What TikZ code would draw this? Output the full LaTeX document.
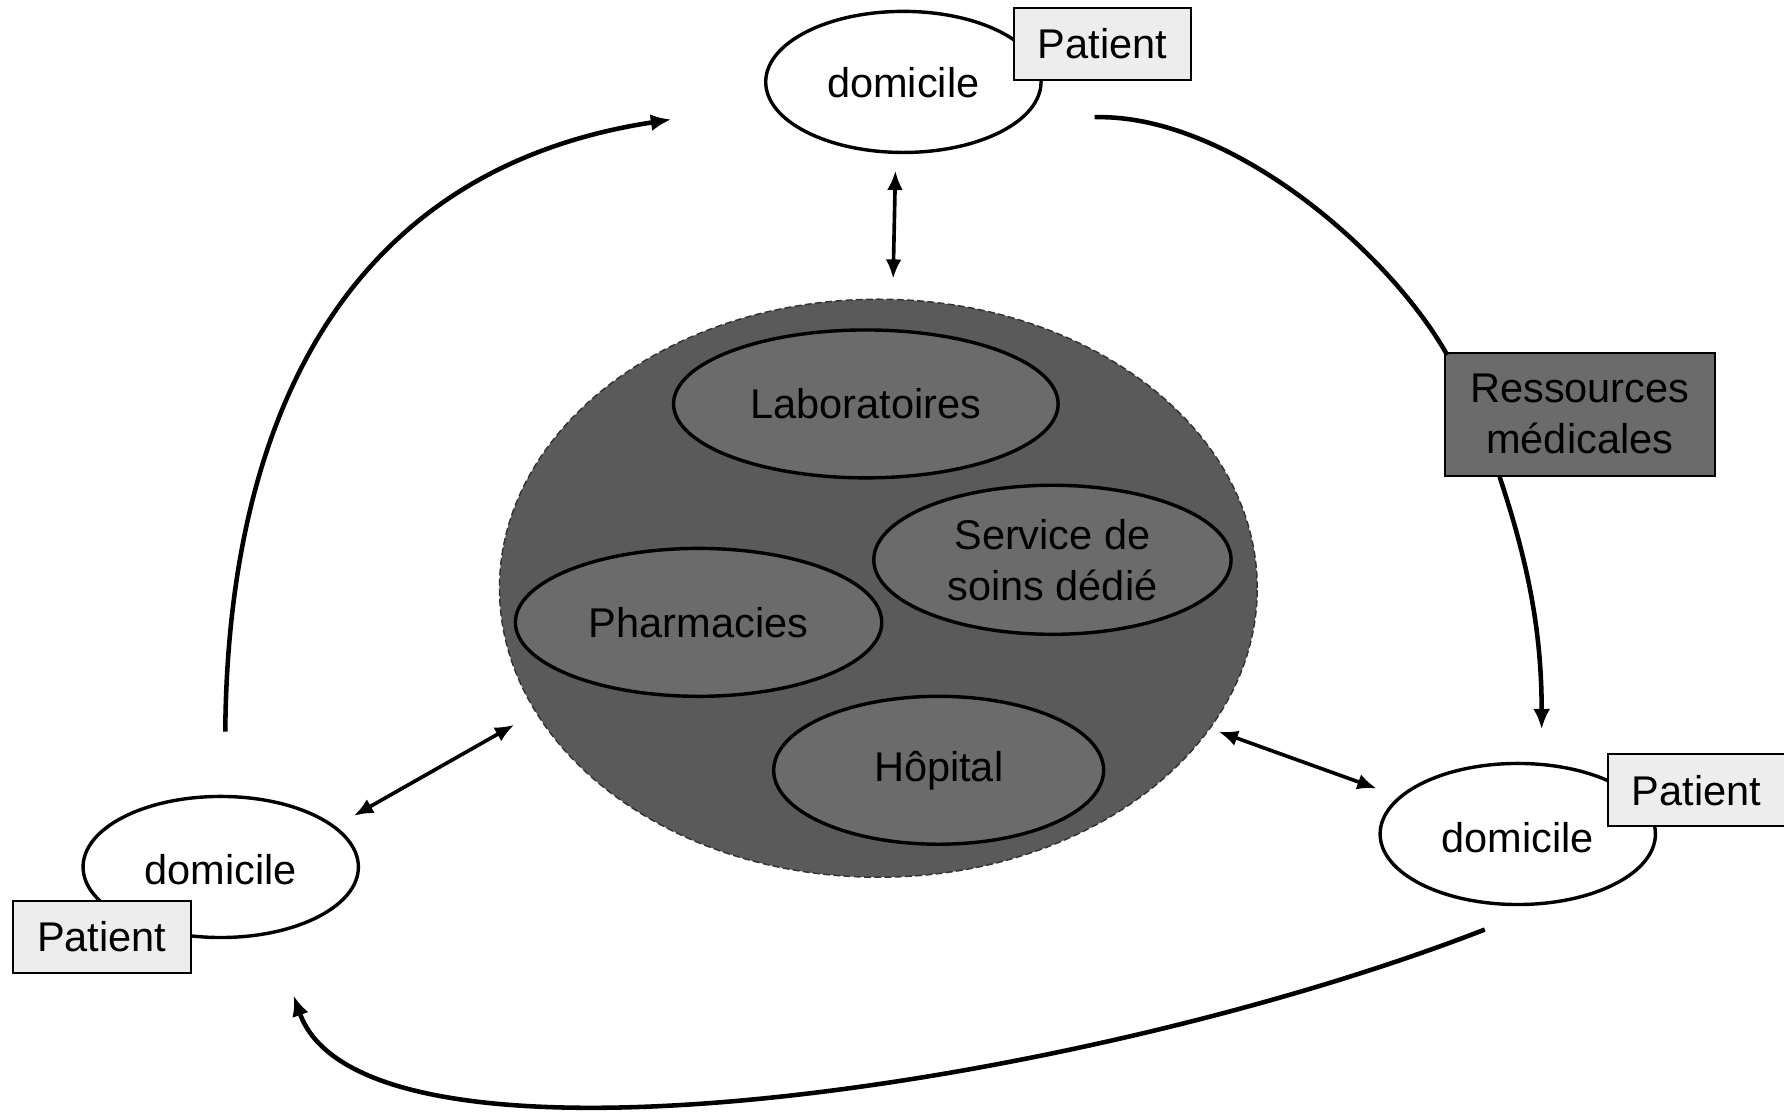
\documentclass[tikz,border=0pt]{standalone}
\usepackage{fontspec}
\setmainfont{Liberation Sans}
\usetikzlibrary{shapes.geometric,arrows.meta}
\definecolor{patgray}{HTML}{EDEDED}
\definecolor{bigfill}{HTML}{5A5A5A}
\definecolor{midfill}{HTML}{6B6B6B}
\begin{document}
\begin{tikzpicture}[x=1pt,y=-1pt,
  every node/.style={font=\fontsize{36.5}{45}\selectfont},
  dom/.style={ellipse,draw,line width=3pt,fill=white,minimum width=242pt,minimum height=124pt,inner sep=0pt},
  pat/.style={draw,line width=1.8pt,fill=patgray,minimum width=156pt,minimum height=63pt,inner sep=0pt},
  inner/.style={ellipse,draw,line width=3pt,fill=midfill,inner sep=0pt,align=center},
  res/.style={draw,line width=1.8pt,fill=midfill,minimum width=237pt,minimum height=108pt,inner sep=0pt,align=center},
  conn/.style={line width=4pt,-{Latex[length=18pt,width=15pt]}},
  dbl/.style={line width=3.2pt,{Latex[length=17pt,width=14pt]}-{Latex[length=17pt,width=14pt]}}
]
\useasboundingbox (0,0) rectangle (1568,980);
% central cluster
\node[ellipse,draw=black!80,dash pattern=on 6pt off 3pt,line width=1.3pt,fill=bigfill,minimum width=666pt,minimum height=508pt,inner sep=0pt] (big) at (772,517) {};
\node[inner,minimum width=338pt,minimum height=130pt] (lab) at (761,355) {Laboratoires};
\node[inner,minimum width=314pt,minimum height=131pt] (svc) at (925,492) {Service de\\soins dédié};
\node[inner,minimum width=322pt,minimum height=130pt] (pha) at (614,547) {Pharmacies};
\node[inner,minimum width=290pt,minimum height=130pt] (hop) at (825,677) {Hôpital};
% domiciles
\node[dom] (dtop) at (794,72) {};
\node at (794,73) {domicile};
\node[pat] (ptop) at (969,38.5) {Patient};
\node[dom] (dright) at (1334,733) {};
\node at (1334,736) {domicile};
\node[pat] (pright) at (1491,694.5) {Patient};
\node[dom] (dleft) at (194,762) {};
\node at (194,764) {domicile};
\node[pat] (pleft) at (89.5,823.5) {Patient};
% resources
\node[res] (res) at (1388.5,364) {Ressources\\médicales};
% connector end points
\coordinate (c1) at (198,643);
\coordinate (c2) at (590,105);
\coordinate (c3) at (962,103);
\coordinate (c4) at (1272,312);
\coordinate (c5) at (1318,419);
\coordinate (c6) at (1355,641);
\coordinate (c7) at (1305,817);
\coordinate (c8) at (258,875);
\coordinate (v1) at (787,150);
\coordinate (v2) at (785,245);
\coordinate (l1) at (311,717);
\coordinate (l2) at (452,637);
\coordinate (r1) at (1071,643);
\coordinate (r2) at (1210,693);
% connectors
\draw[conn] (c1) .. controls (200,380) and (295,150) .. (c2);
\draw[line width=4pt] (c3) .. controls (1080,100) and (1220,220) .. (c4);
\draw[conn] (c5) .. controls (1345,500) and (1355,560) .. (c6);
\draw[conn] (c7) .. controls (950,955) and (320,1050) .. (c8);
\draw[dbl] (v1) -- (v2);
\draw[dbl] (l1) -- (l2);
\draw[dbl] (r1) -- (r2);
\end{tikzpicture}
\end{document}
